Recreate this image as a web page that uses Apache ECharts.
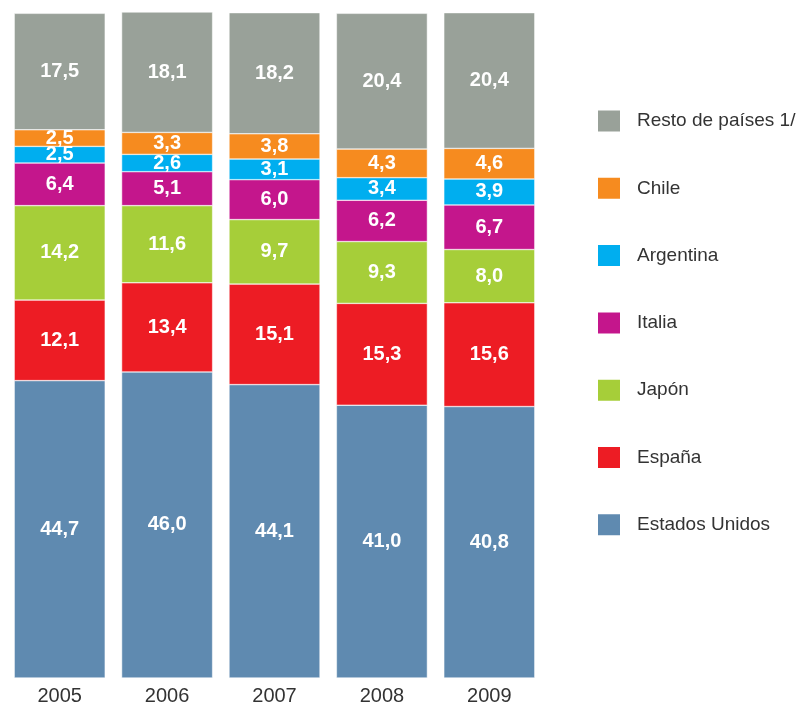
<!DOCTYPE html>
<html>
<head>
<meta charset="utf-8">
<script src="https://cdn.jsdelivr.net/npm/echarts@6/dist/echarts.min.js"></script>
<style>
  html, body { margin: 0; padding: 0; background: #fff; }
  #chart { width: 799px; height: 707px; }
</style>
</head>
<body>
<div id="chart"></div>
<script>
const years = ['2005', '2006', '2007', '2008', '2009'];
const estadosUnidos = [44.7, 46.0, 44.1, 41.0, 40.8];
const espana = [12.1, 13.4, 15.1, 15.3, 15.6];
const japon = [14.2, 11.6, 9.7, 9.3, 8.0];
const italia = [6.4, 5.1, 6.0, 6.2, 6.7];
const argentina = [2.5, 2.6, 3.1, 3.4, 3.9];
const chile = [2.5, 3.3, 3.8, 4.3, 4.6];
const resto = [17.5, 18.1, 18.2, 20.4, 20.4];

const font = '"Liberation Sans", Arial, sans-serif';

const seriesDefs = [
  { name: 'Estados Unidos', data: estadosUnidos, color: '#5f8ab0' },
  { name: 'España', data: espana, color: '#ed1c24' },
  { name: 'Japón', data: japon, color: '#a6ce39' },
  { name: 'Italia', data: italia, color: '#c4168c' },
  { name: 'Argentina', data: argentina, color: '#00aeef' },
  { name: 'Chile', data: chile, color: '#f68b1f' },
  { name: 'Resto de países 1/', data: resto, color: '#99a199' }
];

const chart = echarts.init(document.getElementById('chart'), null, { renderer: 'canvas' });

const option = {
  animation: false,
  grid: { left: 6, right: 256, top: 12, bottom: 29 },
  legend: {
    orient: 'vertical',
    left: 591,
    top: 103.5,
    itemWidth: 24,
    itemHeight: 23,
    itemGap: 42.3,
    icon: 'rect',
    data: seriesDefs.map(s => s.name).reverse(),
    textStyle: { fontFamily: font, fontSize: 19, lineHeight: 23, color: '#333', padding: [0, 0, 0, 11] }
  },
  xAxis: {
    type: 'category',
    data: years,
    axisLine: { show: false },
    axisTick: { show: false },
    axisLabel: { fontFamily: font, fontSize: 20, color: '#333', margin: 8 }
  },
  yAxis: {
    type: 'value',
    min: 0,
    max: 100.1,
    show: false,
    splitLine: { show: false }
  },
  series: seriesDefs.map(s => ({
    name: s.name,
    type: 'bar',
    stack: 'total',
    barWidth: 91,
    data: s.data,
    itemStyle: { color: s.color, borderColor: '#fff', borderWidth: 0.5 },
    label: {
      show: true,
      position: 'inside',
      color: '#fff',
      fontFamily: font,
      fontWeight: 'bold',
      fontSize: 20,
      formatter: p => p.value.toFixed(1).replace('.', ',')
    }
  }))
};

chart.setOption(option);
</script>
</body>
</html>
